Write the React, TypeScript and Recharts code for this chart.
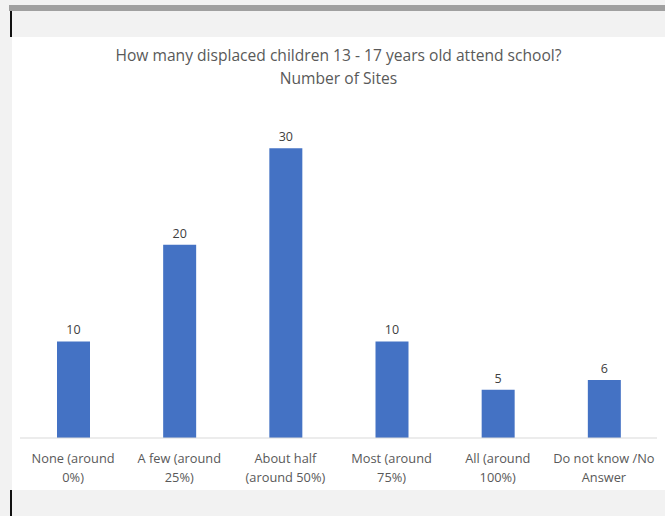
import React from "react";
import { BarChart, Bar, XAxis, YAxis, LabelList } from "recharts";

// categories, split into the two lines shown under each bar
const categoryLine1 = [
  "None (around",
  "A few (around",
  "About half",
  "Most (around",
  "All (around",
  "Do not know /No",
];
const categoryLine2 = ["0%)", "25%)", "(around 50%)", "75%)", "100%)", "Answer"];
const sites = [10, 20, 30, 10, 5, 6];

const chartData = sites.map((value, i) => ({
  name: categoryLine1[i] + " " + categoryLine2[i],
  sites: value,
}));

const FONT = "'Open Sans', 'Liberation Sans', sans-serif";

function CategoryTick(props: any) {
  const { x, y, payload, index } = props;
  const i = index ?? payload.index;
  return (
    <g transform={`translate(${x},${y})`}>
      <text textAnchor="middle" fill="#595959" fontSize={12.8} fontFamily={FONT}>
        <tspan x={0} y={17}>{categoryLine1[i]}</tspan>
        <tspan x={0} y={36}>{categoryLine2[i]}</tspan>
      </text>
    </g>
  );
}

export default function App() {
  return (
    <div
      style={{
        position: "fixed",
        left: 0,
        top: 0,
        width: 665,
        height: 516,
        background: "#f2f2f2",
        overflow: "hidden",
        fontFamily: FONT,
      }}
    >
      {/* dark strip at top */}
      <div style={{ position: "absolute", left: 9, top: 5, width: 656, height: 6, background: "#a0a0a0" }} />
      {/* black edge lines on the left */}
      <div style={{ position: "absolute", left: 10, top: 11, width: 2, height: 26, background: "#111" }} />
      <div style={{ position: "absolute", left: 10, top: 490, width: 2, height: 26, background: "#111" }} />
      {/* white chart area */}
      <div style={{ position: "absolute", left: 12, top: 37, width: 653, height: 453, background: "#ffffff" }} />

      <div
        style={{
          position: "absolute",
          left: 12,
          top: 44,
          width: 653,
          textAlign: "center",
          color: "#595959",
          fontSize: 15.6,
          lineHeight: "23px",
        }}
      >
        <div>How many displaced children 13 - 17 years old attend school?</div>
        <div>Number of Sites</div>
      </div>

      <div style={{ position: "absolute", left: 0, top: 0 }}>
        <BarChart
          width={665}
          height={516}
          data={chartData}
          margin={{ top: 100, right: 8, left: 20, bottom: 0 }}
        >
          <XAxis
            dataKey="name"
            axisLine={{ stroke: "#d9d9d9" }}
            tickLine={false}
            interval={0}
            tick={<CategoryTick />}
            height={78}
          />
          <YAxis hide domain={[0, 35]} />
          <Bar dataKey="sites" fill="#4472c4" barSize={33} isAnimationActive={false}>
            <LabelList
              dataKey="sites"
              position="top"
              offset={7}
              fill="#404040"
              fontSize={12.5}
              fontFamily={FONT}
            />
          </Bar>
        </BarChart>
      </div>
    </div>
  );
}
